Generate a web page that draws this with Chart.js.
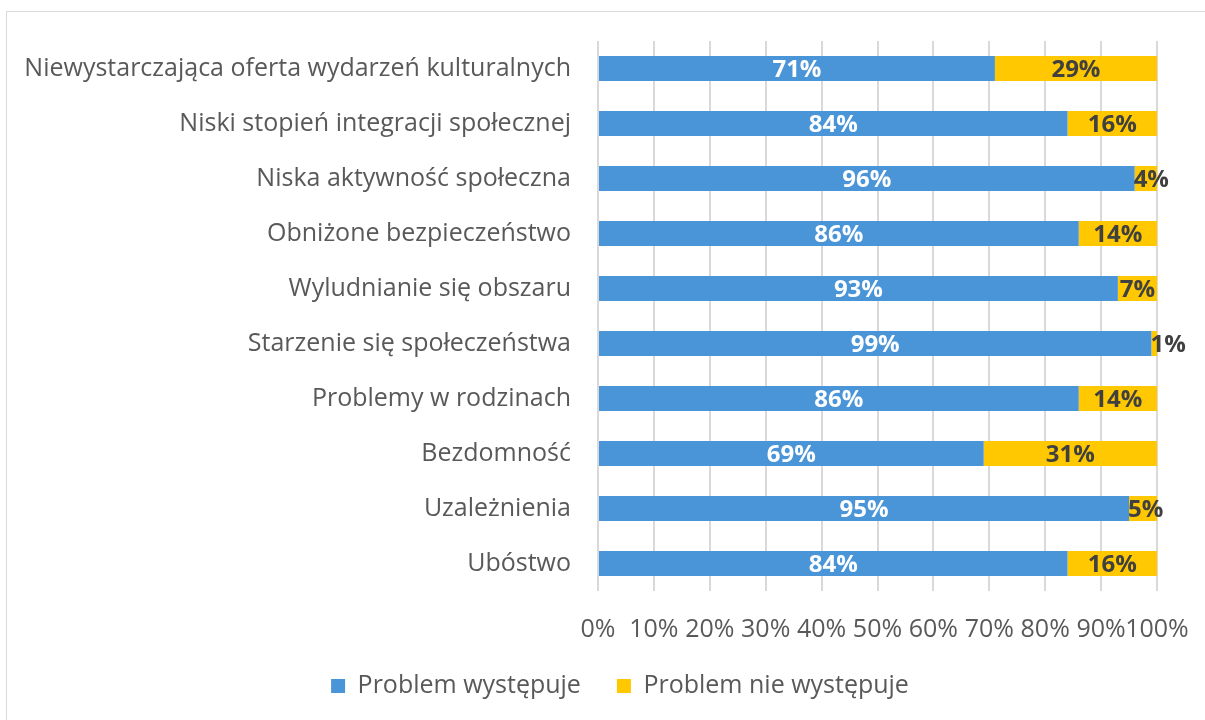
<!DOCTYPE html>
<html>
<head>
<meta charset="utf-8">
<script src="https://cdn.jsdelivr.net/npm/chart.js@4"></script>
<style>
  html, body { margin: 0; padding: 0; background: #ffffff; overflow: hidden; width: 1205px; height: 720px; }
  #box { position: absolute; left: 6px; top: 11px; width: 1226px; height: 738px; border: 1px solid #d9d9d9; background: #fff; }
  canvas { display: block; }
</style>
</head>
<body>
<div id="box"><canvas id="c" width="1226" height="738"></canvas></div>
<script>
const categories = [
  'Niewystarczająca oferta wydarzeń kulturalnych',
  'Niski stopień integracji społecznej',
  'Niska aktywność społeczna',
  'Obniżone bezpieczeństwo',
  'Wyludnianie się obszaru',
  'Starzenie się społeczeństwa',
  'Problemy w rodzinach',
  'Bezdomność',
  'Uzależnienia',
  'Ubóstwo'
];
const seriesNames = ['Problem występuje', 'Problem nie występuje'];
const problemYes = [71, 84, 96, 86, 93, 99, 86, 69, 95, 84];
const problemNo = [29, 16, 4, 14, 7, 1, 14, 31, 5, 16];
const xTicks = [0, 10, 20, 30, 40, 50, 60, 70, 80, 90, 100];

const FONT = '"Open Sans", Lato, sans-serif';
const BLUE = '#4a95d8';
const GOLD = '#ffc800';
const TEXT = '#595959';

const labelPlugin = {
  id: 'barLabels',
  afterLayout(chart) {
    const lg = chart.legend;
    if (lg) {
      const dy = 625.5 - lg.top;
      lg.top += dy;
      lg.bottom += dy;
      const dx = 38;
      lg.left += dx;
      lg.right += dx;
    }
  },
  afterDatasetsDraw(chart) {
    const ctx = chart.ctx;
    ctx.save();
    ctx.font = 'bold 24px ' + FONT;
    ctx.textAlign = 'center';
    ctx.textBaseline = 'middle';
    chart.data.datasets.forEach((ds, di) => {
      const meta = chart.getDatasetMeta(di);
      meta.data.forEach((bar, i) => {
        const txt = ds.data[i] + '%';
        const tw = ctx.measureText(txt).width;
        const start = Math.min(bar.x, bar.base);
        const end = Math.max(bar.x, bar.base);
        let x = (start + end) / 2;
        if (di === 1) x = Math.max(x, start + tw / 2 - 1);
        ctx.fillStyle = di === 0 ? '#ffffff' : '#404040';
        ctx.fillText(txt, x, bar.y + 2);
      });
    });
    ctx.restore();
  }
};

new Chart(document.getElementById('c'), {
  type: 'bar',
  data: {
    labels: categories,
    datasets: [
      { label: seriesNames[0], data: problemYes, backgroundColor: BLUE, categoryPercentage: 0.9, barPercentage: 0.505 },
      { label: seriesNames[1], data: problemNo, backgroundColor: GOLD, categoryPercentage: 0.9, barPercentage: 0.505 }
    ]
  },
  options: {
    indexAxis: 'y',
    responsive: false,
    animation: false,
    layout: { padding: { top: 29, right: 76, bottom: 32, left: 0 } },
    scales: {
      x: {
        stacked: true,
        min: 0, max: 100,
        afterBuildTicks(scale) { scale.ticks = xTicks.map(v => ({ value: v })); },
        afterFit(scale) { scale.height = 56; },
        grid: { color: '#d9d9d9', lineWidth: 2, drawTicks: false },
        border: { display: false },
        ticks: { callback: v => v + '%', color: TEXT, font: { family: FONT, size: 25 }, padding: 24, maxRotation: 0, autoSkip: false }
      },
      y: {
        stacked: true,
        afterFit(scale) { scale.width = 591; scale.paddingTop = 0; scale.paddingBottom = 0; },
        grid: { display: false, drawTicks: false },
        border: { display: false },
        ticks: { color: TEXT, font: { family: FONT, size: 25 }, padding: 27 }
      }
    },
    plugins: {
      legend: {
        position: 'bottom',
        labels: { color: TEXT, font: { family: FONT, size: 25 }, boxWidth: 14, boxHeight: 14, padding: 36 }
      },
      tooltip: { enabled: false }
    }
  },
  plugins: [labelPlugin]
});
</script>
</body>
</html>
